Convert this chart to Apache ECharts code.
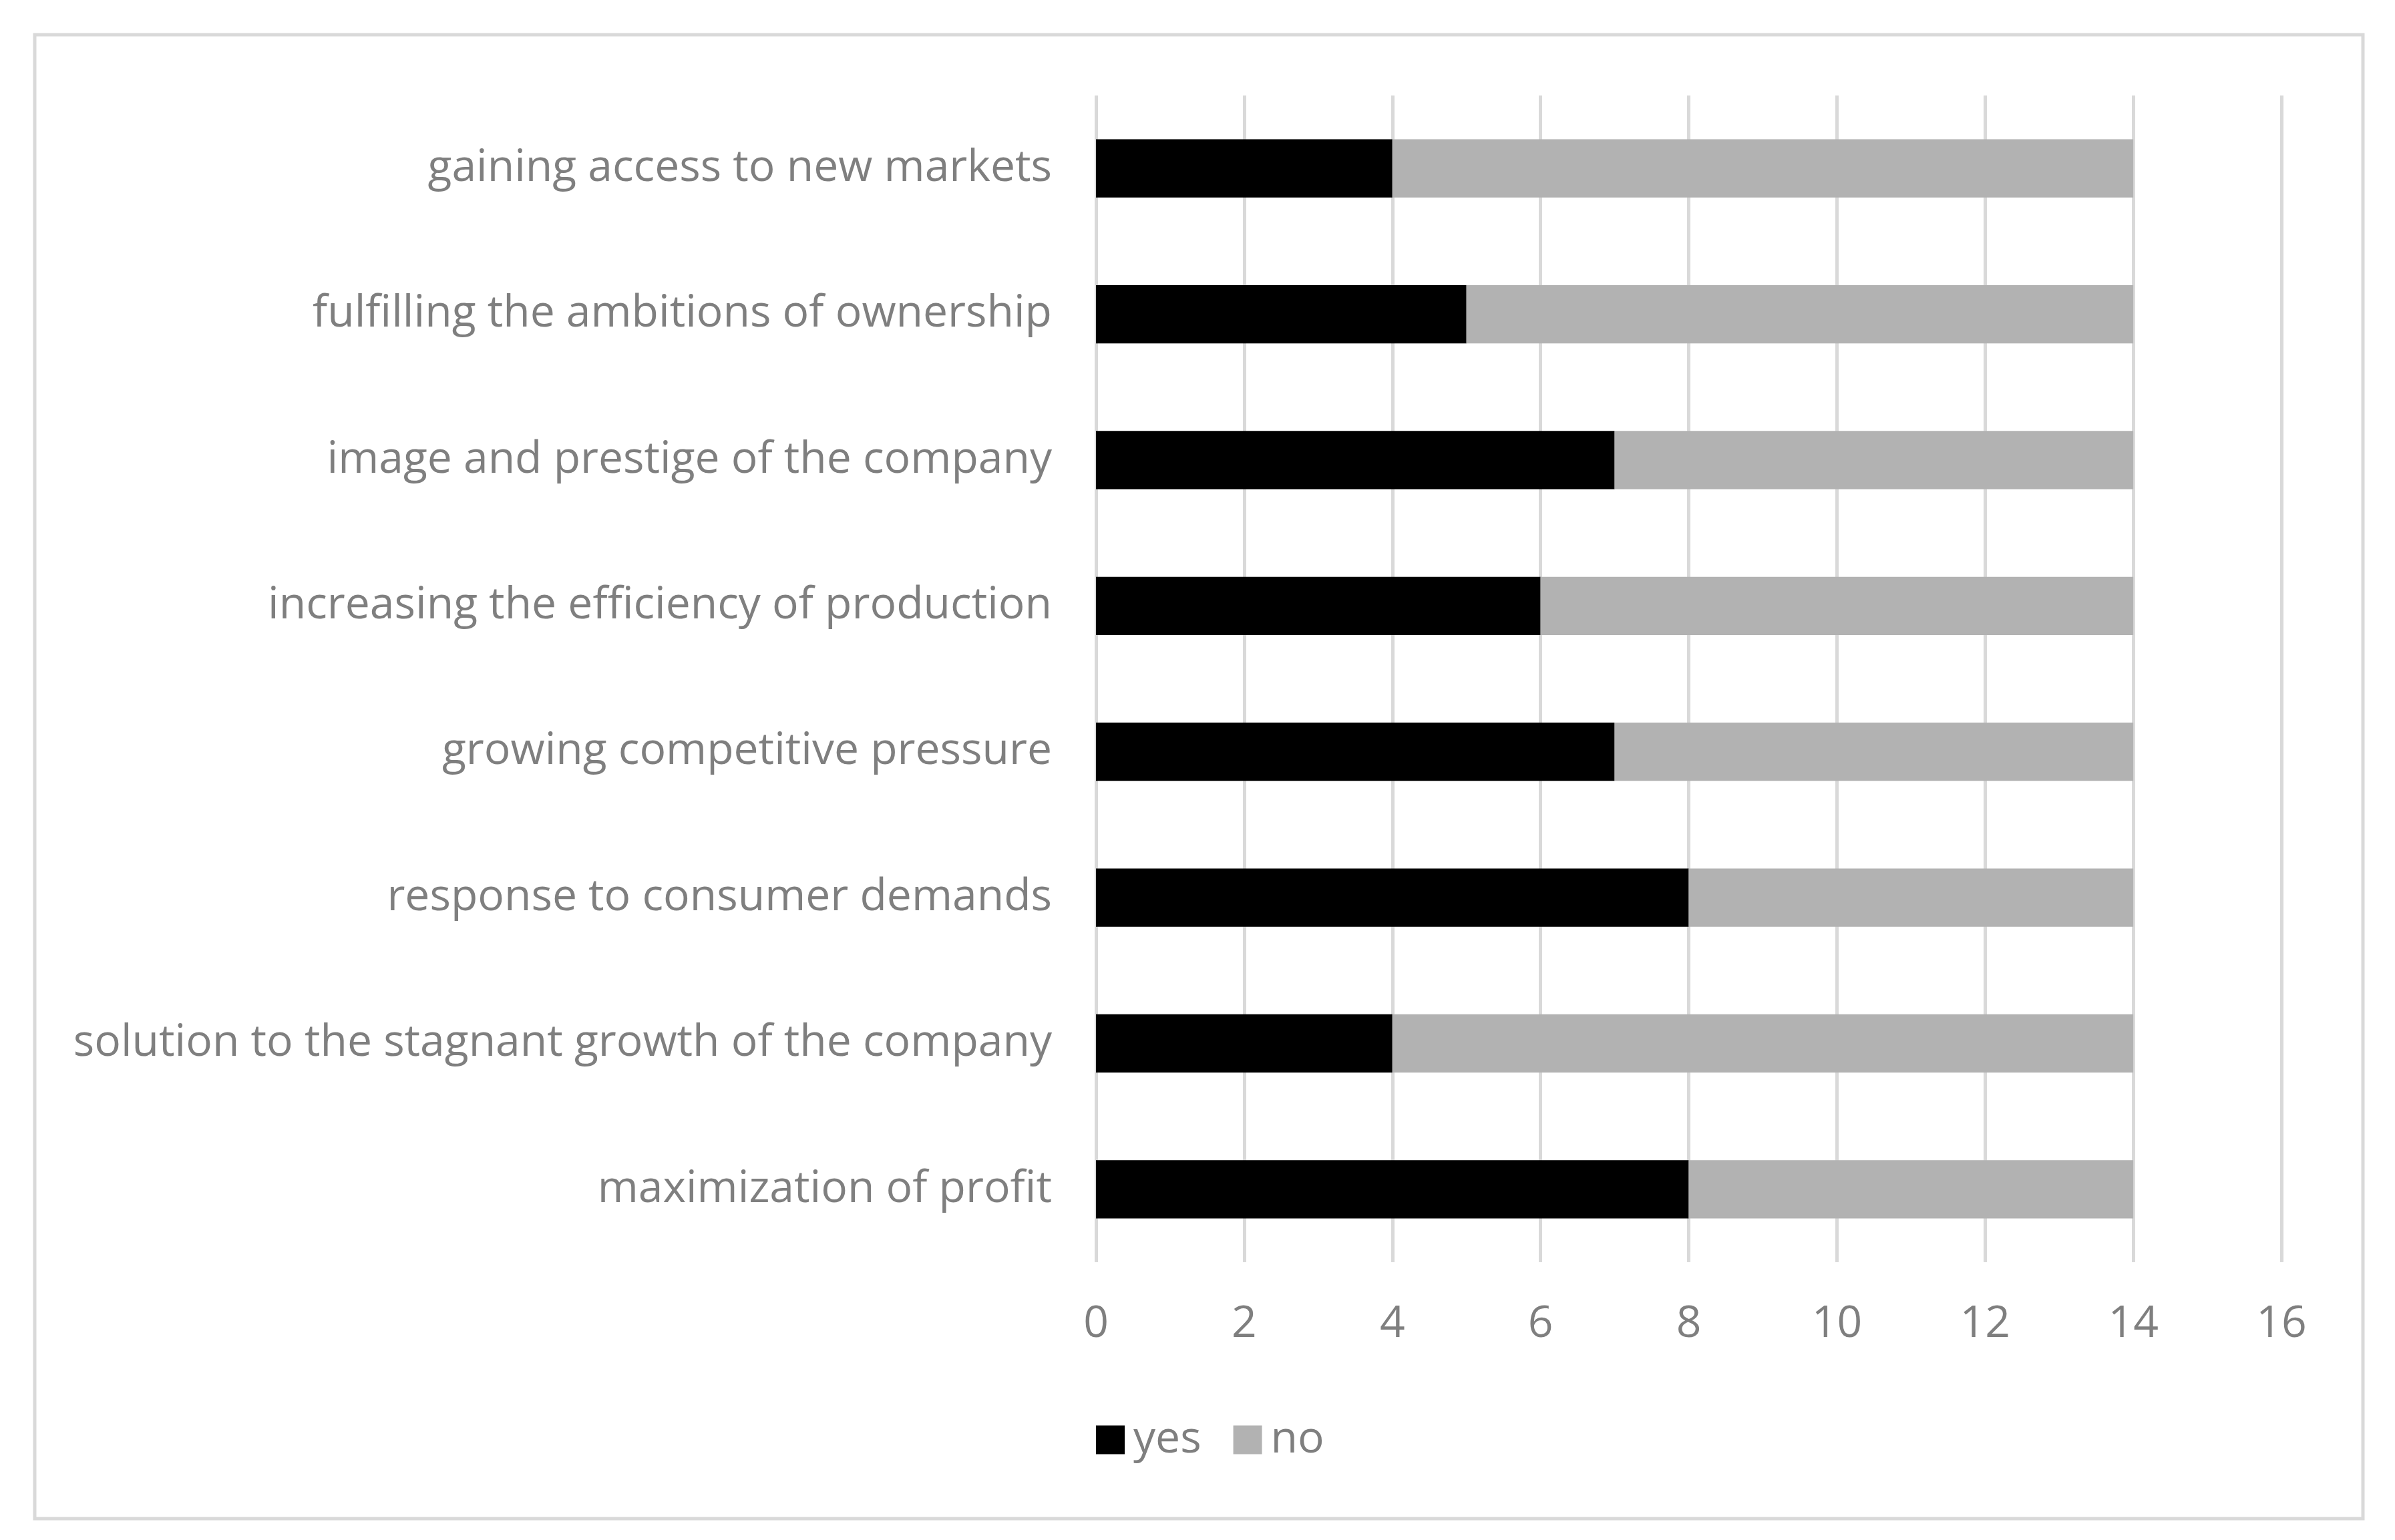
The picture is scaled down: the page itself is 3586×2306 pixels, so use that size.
<!DOCTYPE html>
<html>
<head>
<meta charset="utf-8">
<script src="https://cdn.jsdelivr.net/npm/echarts@6/dist/echarts.min.js"></script>
<style>
html,body{margin:0;padding:0;background:#fff;}
#c{width:3586px;height:2306px;}
</style>
</head>
<body>
<div id="c"></div>
<script>
const categories = [
  "gaining access to new markets",
  "fulfilling the ambitions of ownership",
  "image and prestige of the company",
  "increasing the efficiency of production",
  "growing competitive pressure",
  "response to consumer demands",
  "solution to the stagnant growth of the company",
  "maximization of profit"
];
const yesValues = [4, 5, 7, 6, 7, 8, 4, 8];
const noValues = [10, 9, 7, 8, 7, 6, 10, 6];
const xTicks = [0, 2, 4, 6, 8, 10, 12, 14, 16];

const FONT = 'Open Sans';
const FS = 66;
const TXT = '#7f7f7f';
const chart = echarts.init(document.getElementById('c'));
chart.setOption({
  animation: false,
  backgroundColor: '#ffffff',
  graphic: [{
    type: 'rect',
    shape: {x: 52, y: 52, width: 3486, height: 2222},
    style: {fill: 'none', stroke: '#d9d9d9', lineWidth: 5},
    silent: true
  }],
  grid: {left: 1641, right: 170, top: 143, bottom: 416, containLabel: false},
  legend: {
    data: ['yes', 'no'],
    left: 1636,
    top: 2118,
    itemWidth: 43,
    itemHeight: 43,
    itemGap: 48,
    icon: 'rect',
    textStyle: {fontFamily: FONT, fontSize: FS, color: TXT, lineHeight: 43, padding: [0, 0, 0, 8]}
  },
  xAxis: {
    type: 'value',
    min: xTicks[0],
    max: xTicks[xTicks.length - 1],
    interval: 2,
    axisLine: {show: false},
    axisTick: {show: false},
    splitLine: {show: true, lineStyle: {color: '#d9d9d9', width: 5}},
    axisLabel: {fontFamily: FONT, fontSize: FS, color: TXT, margin: 60}
  },
  yAxis: {
    type: 'category',
    data: categories,
    inverse: true,
    axisLine: {show: false},
    axisTick: {show: false},
    axisLabel: {fontFamily: FONT, fontSize: FS, color: TXT, margin: 66}
  },
  series: [
    {name: 'yes', type: 'bar', stack: 'total', data: yesValues, barCategoryGap: '60%', itemStyle: {color: '#000000'}},
    {name: 'no', type: 'bar', stack: 'total', data: noValues, barCategoryGap: '60%', itemStyle: {color: '#b2b2b2'}}
  ]
});
</script>
</body>
</html>
